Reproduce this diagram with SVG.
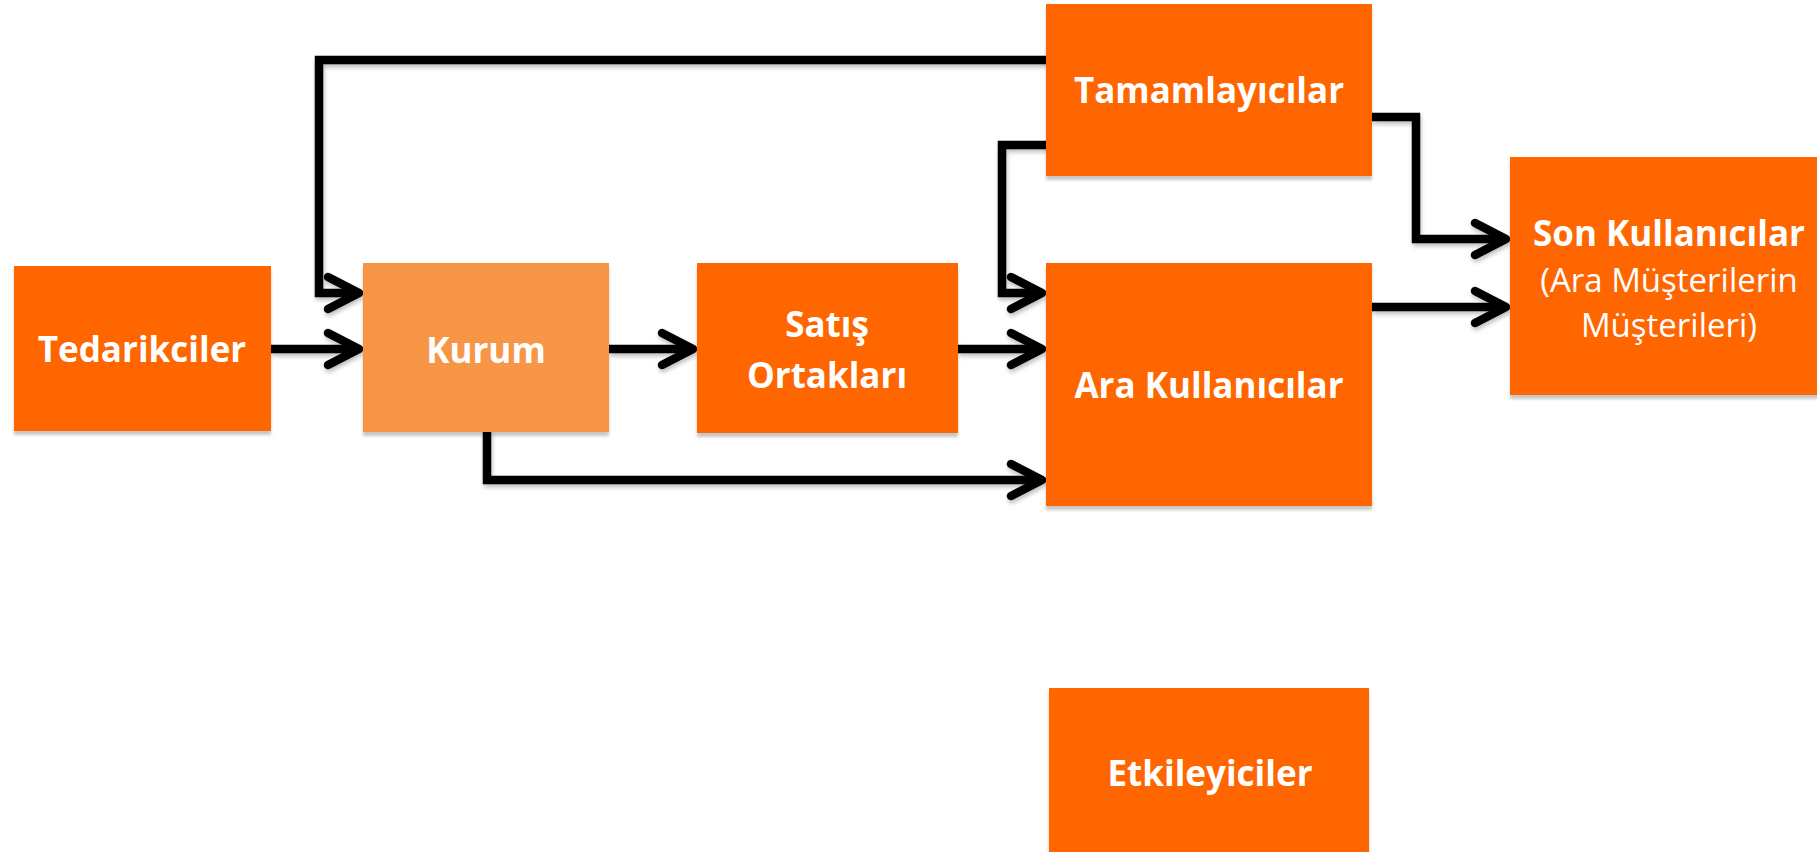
<svg xmlns="http://www.w3.org/2000/svg" width="1817" height="852" viewBox="0 0 1817 852">
  <style>
    .box { fill: #FF6600; filter: url(#boxShadow); }
    .box.light { fill: #F79646; }
    .lbl { font-family: "Open Sans", "Liberation Sans", sans-serif; font-weight: bold; font-size: 35px; fill: #FFFFFF; text-anchor: middle; }
    .sub { font-family: "Open Sans", "Liberation Sans", sans-serif; font-weight: normal; font-size: 33px; fill: #FFFFFF; text-anchor: middle; }
    .conn { fill: none; stroke: #000000; stroke-width: 8.5; stroke-linejoin: miter; stroke-linecap: butt; marker-end: url(#arrow); }
  </style>
  <defs>
    <filter id="boxShadow" x="-5%" y="-5%" width="110%" height="115%">
      <feDropShadow dx="0" dy="4" stdDeviation="1.5" flood-color="#000000" flood-opacity="0.22"/>
    </filter>
    <filter id="lineShadow" x="-5%" y="-10%" width="110%" height="130%">
      <feDropShadow dx="1" dy="3" stdDeviation="2" flood-color="#000000" flood-opacity="0.25"/>
    </filter>
    <marker id="arrow" markerUnits="userSpaceOnUse" viewBox="-40 -22 46 44" markerWidth="46" markerHeight="44" refX="0" refY="0" orient="auto" overflow="visible">
      <path d="M-31,-16 L0,0 L-31,16" fill="none" stroke="#000000" stroke-width="8.5" stroke-linecap="round" stroke-linejoin="round"/>
    </marker>
  </defs>
  <rect width="1817" height="852" fill="#FFFFFF"/>

  <g id="connectors" filter="url(#lineShadow)">
    <path class="conn" d="M1047,60 L319,60 L319,293 L359,293"/>
    <path class="conn" d="M271,349 L359,349"/>
    <path class="conn" d="M609,349 L693,349"/>
    <path class="conn" d="M958,349 L1042,349"/>
    <path class="conn" d="M1048,145 L1002,145 L1002,293 L1042,293"/>
    <path class="conn" d="M487,431 L487,480 L1042,480"/>
    <path class="conn" d="M1372,117 L1416,117 L1416,239 L1506,239"/>
    <path class="conn" d="M1372,307 L1506,307"/>
  </g>

  <g id="node-tedarikciler">
    <rect class="box" x="14" y="266" width="257" height="165"/>
    <text class="lbl" x="142" y="362">Tedarikciler</text>
  </g>
  <g id="node-kurum">
    <rect class="box light" x="363" y="263" width="246" height="169"/>
    <text class="lbl" x="486" y="363">Kurum</text>
  </g>
  <g id="node-satis-ortaklari">
    <rect class="box" x="697" y="263" width="261" height="170"/>
    <text class="lbl" x="827" y="337">Satış</text>
    <text class="lbl" x="827" y="388">Ortakları</text>
  </g>
  <g id="node-ara-kullanicilar">
    <rect class="box" x="1046" y="263" width="326" height="243"/>
    <text class="lbl" x="1209" y="398">Ara Kullanıcılar</text>
  </g>
  <g id="node-tamamlayicilar">
    <rect class="box" x="1046" y="4" width="326" height="172"/>
    <text class="lbl" x="1209" y="103">Tamamlayıcılar</text>
  </g>
  <g id="node-son-kullanicilar">
    <rect class="box" x="1510" y="157" width="320" height="238"/>
    <text class="lbl" x="1669" y="246">Son Kullanıcılar</text>
    <text class="sub" x="1669" y="292">(Ara Müşterilerin</text>
    <text class="sub" x="1669" y="337">Müşterileri)</text>
  </g>
  <g id="node-etkileyiciler">
    <rect class="box" x="1049" y="688" width="320" height="180"/>
    <text class="lbl" x="1210" y="786">Etkileyiciler</text>
  </g>
</svg>
